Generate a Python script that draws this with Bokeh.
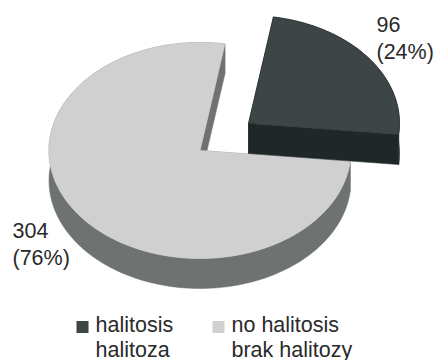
import numpy as np
from bokeh.core.properties import value
from bokeh.embed import file_html
from bokeh.models import ColumnDataSource, Range1d
from bokeh.plotting import figure
from bokeh.resources import INLINE

# Study groups
categories = ["halitosis", "no halitosis"]
categories_pl = ["halitoza", "brak halitozy"]
counts = [96, 304]

top_colors = ["#3d4546", "#d0d0d0"]
side_colors = ["#1f2728", "#6e7372"]
TEXT = "#2a2a2a"
FONT = value("Liberation Sans")
SIZE = "21.5px"

# Projected pie geometry, in page pixels (y grows downward)
CX, CY = 199.5, 150.0
RX, RY = 151.0, 108.0
DEPTH = 30.0
START = 9.5
EXPLODE = [(48.5, -27.0), (0.0, 0.0)]


def rim(a0, a1, dx=0.0, dy=0.0, n=160):
    t = np.radians(np.linspace(a0, a1, n))
    return CX + dx + RX * np.sin(t), CY + dy - RY * np.cos(t)


p = figure(width=438, height=360, output_backend="svg", toolbar_location=None,
           x_range=Range1d(0, 438), y_range=Range1d(360, 0),
           min_border=0, outline_line_color=None, background_fill_color="white",
           border_fill_color="white")
p.axis.visible = False
p.grid.visible = False

total = sum(counts)
sweeps = [360.0 * c / total for c in counts]
spans = [(START, START + sweeps[0]), (START + sweeps[0], START + 360.0)]

# Side walls first, top faces over them
for i in (1, 0):
    a0, a1 = spans[i]
    dx, dy = EXPLODE[i]
    ax, ay = CX + dx, CY + dy
    sx, sy = rim(a0, a1, dx, dy)
    # Outer wall: sweep of the rim down through the depth
    wx = np.concatenate([sx, sx[::-1]])
    wy = np.concatenate([sy, sy[::-1] + DEPTH])
    p.patch(wx, wy, fill_color=side_colors[i], line_color=side_colors[i], line_width=0.5)
    # Cut faces running from the apex to both ends of the rim
    for ex, ey in ((sx[0], sy[0]), (sx[-1], sy[-1])):
        p.patch([ax, ex, ex, ax], [ay, ey, ey + DEPTH, ay + DEPTH],
                fill_color=side_colors[i], line_color=side_colors[i], line_width=0.5)
    tx = np.concatenate([[ax], sx])
    ty = np.concatenate([[ay], sy])
    edge = "#2a3132" if i == 0 else top_colors[i]
    p.patch(tx, ty, fill_color=top_colors[i], line_color=edge, line_width=0.7)

# Value labels, one text line per row
pct = [round(100 * c / total) for c in counts]
p.text(x=[376, 376, 12, 12], y=[24, 51, 230, 257],
       text=[str(counts[0]), f"({pct[0]}%)", str(counts[1]), f"({pct[1]}%)"],
       text_font=FONT, text_font_size=SIZE, text_color=TEXT,
       text_baseline="alphabetic", text_align="left")

# Legend
legend = ColumnDataSource(dict(x=[82, 218], y=[326.5, 326.5], c=top_colors))
p.scatter("x", "y", source=legend, marker="square", size=12, fill_color="c", line_color=None)
p.text(x=[95, 231, 95, 231], y=[324, 324, 349, 349],
       text=[categories[0], categories[1], categories_pl[0], categories_pl[1]],
       text_font=FONT, text_font_size=SIZE, text_color=TEXT,
       text_baseline="alphabetic", text_align="left")

open("out.html", "w").write(file_html(p, INLINE))
